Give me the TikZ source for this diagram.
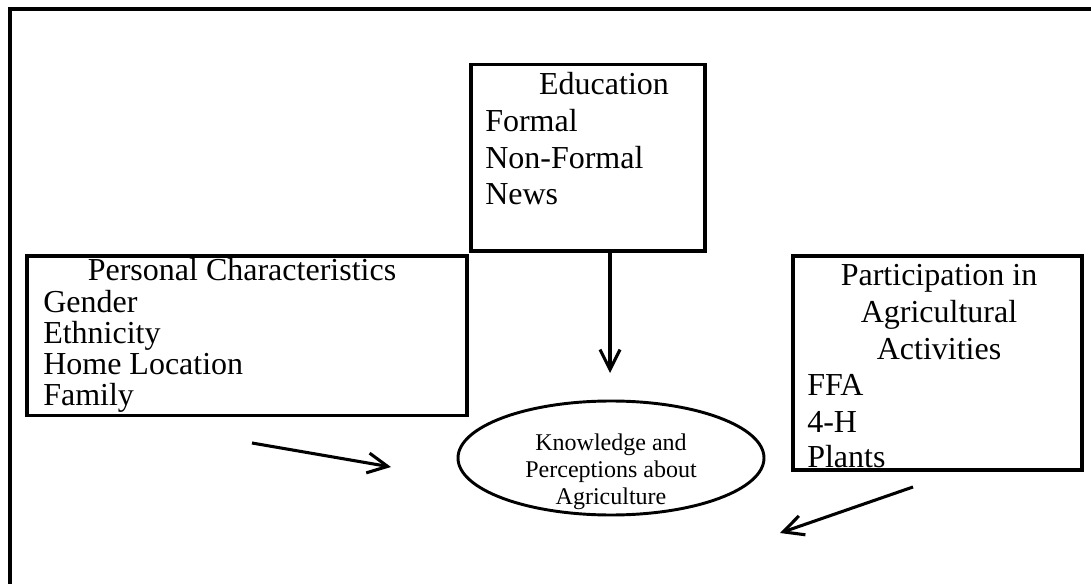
\documentclass[tikz,border=0pt]{standalone}
\usepackage{fontspec}
\setmainfont{Liberation Serif}
\usetikzlibrary{arrows.meta,shapes.geometric,fit}
\begin{document}
\begin{tikzpicture}[x=0.75pt,y=-0.75pt,
  frame/.style={line width=3.3pt},
  box/.style={draw,line width=2.5pt,rectangle,inner sep=0pt},
  big/.style={font=\fontsize{24}{27.5}\selectfont,inner sep=0pt},
  title/.style={big,anchor=base},
  item/.style={big,anchor=base west},
  arr/.style={line width=2.3pt,-{Straight Barb[length=15pt,width=15pt]}},
]
\useasboundingbox (0,0) rectangle (1091,584);
\draw[frame] (1095,9) -- (9.8,9) -- (9.8,590);

% boxes
\node[box,fit={(471,64.5)(705,251)}] (edu) {};
\node[box,fit={(27,256)(467,415.5)}] (pers) {};
\node[box,fit={(793,256)(1082,470)}] (part) {};
\node[draw,ellipse,line width=2.2pt,minimum width=229.5pt,minimum height=85.5pt,inner sep=0pt] (know) at (611,458) {};

% education text
\node[title] (eduT) at (604,95) {Education};
\node[item] (edu1) at (485,131.7) {Formal};
\node[item] (edu2) at (485,168.3) {Non-Formal};
\node[item] (edu3) at (485,205) {News};

% personal text
\node[title] (persT) at (242,281) {Personal Characteristics};
\node[item] (pers1) at (43,312.5) {Gender};
\node[item] (pers2) at (43,343.5) {Ethnicity};
\node[item] (pers3) at (43,374.5) {Home Location};
\node[item] (pers4) at (43,405.5) {Family};

% participation text
\node[title] (partT1) at (939,286) {Participation in};
\node[title] (partT2) at (939,322.5) {Agricultural};
\node[title] (partT3) at (939,359) {Activities};
\node[item] (part1) at (807,395.5) {FFA};
\node[item] (part2) at (807,432) {4-H};
\node[item] (part3) at (807,467.5) {Plants};

% ellipse text
\node[font=\fontsize{18}{20}\selectfont,align=center,inner sep=0pt,anchor=north] (knowtxt) at (611,434) {Knowledge and\\Perceptions about\\Agriculture};

% arrows
\coordinate (a1e) at (610,373);
\coordinate (a2s) at (252,443);
\coordinate (a2e) at (391,467);
\coordinate (a3s) at (913,487);
\coordinate (a3e) at (780,533);
\draw[arr] (edu.south -| a1e) -- (a1e);
\draw[arr] (a2s) -- (a2e);
\draw[arr] (a3s) -- (a3e);
\end{tikzpicture}
\end{document}
